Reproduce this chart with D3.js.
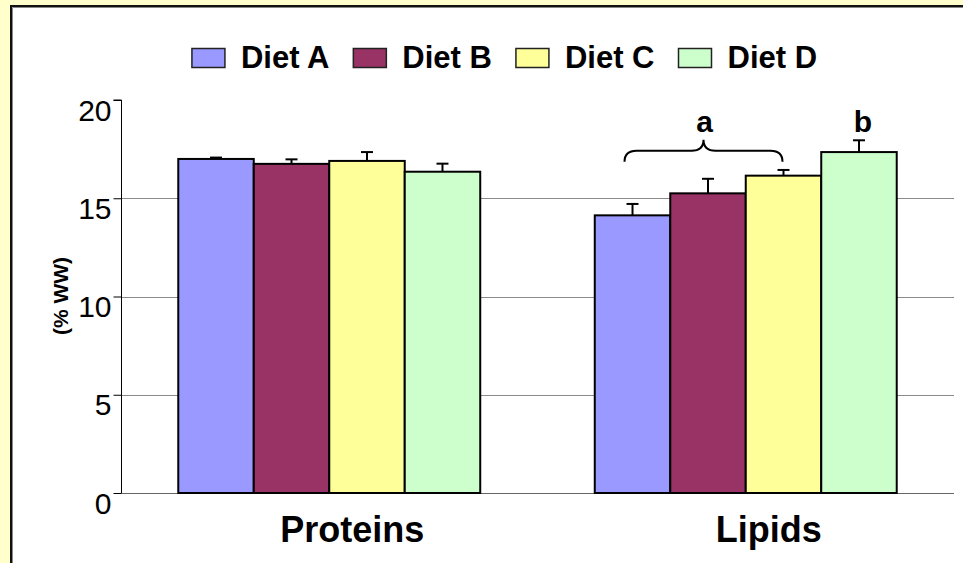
<!DOCTYPE html>
<html>
<head>
<meta charset="utf-8">
<script src="https://cdn.jsdelivr.net/npm/d3@7/dist/d3.min.js"></script>
<style>
  html, body { margin: 0; padding: 0; background: #FFFFCC; }
  svg { display: block; }
  text { font-family: "Liberation Sans", Arial, sans-serif; }
</style>
</head>
<body>
<svg id="chart" width="963" height="563"></svg>
<script>
// Body composition by diet (% wet weight)
const categories = ["Proteins", "Lipids"];
const diets = ["Diet A", "Diet B", "Diet C", "Diet D"];
const colors = ["#9999FF", "#993366", "#FFFF99", "#CCFFCC"];
const proteinValues = [17.0, 16.75, 16.9, 16.35];
const proteinErrors = [0.07, 0.23, 0.45, 0.41];
const lipidValues = [14.13, 15.25, 16.15, 17.35];
const lipidErrors = [0.58, 0.74, 0.29, 0.6];
const yTicks = [0, 5, 10, 15, 20];
const gridTicks = [5, 10, 15];
const yTitle = "(% WW)";
// significance groups for lipids
const sigGroups = [
  { label: "a", from: "Diet A", to: "Diet C" },
  { label: "b", from: "Diet D", to: "Diet D" }
];

const values = { Proteins: proteinValues, Lipids: lipidValues };
const errors = { Proteins: proteinErrors, Lipids: lipidErrors };

const svg = d3.select("#chart");

// white panel with dark frame
svg.append("rect").attr("x", 11).attr("y", 6).attr("width", 980).attr("height", 600)
  .attr("fill", "#fff").attr("stroke", "#111").attr("stroke-width", 2);
svg.append("path").attr("d", "M12.5,600 V7.5 H980").attr("fill", "none")
  .attr("stroke", "#888").attr("stroke-width", 1);

const plotLeft = 121, plotRight = 954, plotTop = 100, plotBottom = 493;

const y = d3.scaleLinear().domain([0, 20]).range([plotBottom, plotTop]);
const x0 = d3.scaleBand().domain(categories).range([plotLeft, plotRight])
  .paddingInner(0.275).paddingOuter(0.1375);
const x1 = d3.scaleBand().domain(diets).range([0, x0.bandwidth()]);
const color = d3.scaleOrdinal().domain(diets).range(colors);

// gridlines
svg.append("g").selectAll("line").data(gridTicks).join("line")
  .attr("x1", plotLeft).attr("x2", plotRight)
  .attr("y1", d => Math.round(y(d)) + 0.5).attr("y2", d => Math.round(y(d)) + 0.5)
  .attr("stroke", "#8a8a8a").attr("stroke-width", 1);

// baseline
svg.append("line").attr("x1", plotLeft).attr("x2", plotRight)
  .attr("y1", Math.round(y(0)) + 0.5).attr("y2", Math.round(y(0)) + 0.5)
  .attr("stroke", "#666").attr("stroke-width", 1.2);

// y axis
const yAxis = svg.append("g").attr("transform", `translate(${plotLeft + 0.5},0)`)
  .call(d3.axisLeft(y).tickValues(yTicks).tickSize(8).tickPadding(3).tickFormat(d3.format("d")));
yAxis.select(".domain").attr("stroke", "#000").attr("d", `M-8,${y(20)}H0V${y(0)}`);
yAxis.selectAll(".tick line").attr("stroke", "#000");
yAxis.selectAll(".tick text")
  .attr("font-size", 30).attr("font-family", "'Liberation Sans', Arial, sans-serif")
  .attr("fill", "#000").attr("dy", "20px").attr("x", -10);

// y title
svg.append("text").attr("transform", "translate(68,296) rotate(-90)")
  .attr("text-anchor", "middle").attr("font-size", 21).attr("font-weight", "bold")
  .text(yTitle);

// bars
const groups = svg.append("g").selectAll("g").data(categories).join("g")
  .attr("transform", d => `translate(${x0(d)},0)`);

const rows = c => diets.map((k, i) => ({ key: k, value: values[c][i], err: errors[c][i] }));

groups.selectAll("rect").data(rows).join("rect")
  .attr("x", d => x1(d.key)).attr("width", x1.bandwidth())
  .attr("y", d => y(d.value)).attr("height", d => y(0) - y(d.value))
  .attr("fill", d => color(d.key)).attr("stroke", "#000").attr("stroke-width", 2);

// error bars (upper only)
const eb = groups.selectAll("g.err").data(rows).join("g").attr("class", "err");
eb.append("line")
  .attr("x1", d => x1(d.key) + x1.bandwidth() / 2).attr("x2", d => x1(d.key) + x1.bandwidth() / 2)
  .attr("y1", d => y(d.value)).attr("y2", d => y(d.value + d.err))
  .attr("stroke", "#000").attr("stroke-width", 2);
eb.append("line")
  .attr("x1", d => x1(d.key) + x1.bandwidth() / 2 - 6).attr("x2", d => x1(d.key) + x1.bandwidth() / 2 + 6)
  .attr("y1", d => y(d.value + d.err)).attr("y2", d => y(d.value + d.err))
  .attr("stroke", "#000").attr("stroke-width", 2);

// category labels
svg.append("g").selectAll("text").data(categories).join("text")
  .attr("x", d => x0(d) + x0.bandwidth() / 2 + 23).attr("y", 541.5)
  .attr("text-anchor", "middle").attr("font-size", 36).attr("font-weight", "bold")
  .text(d => d);

// significance brace and letters (Lipids)
const lx = x0("Lipids");
const braceTop = y(17.95) - 0.5;
sigGroups.forEach(g => {
  const a = lx + x1(g.from) + x1.bandwidth() / 2;
  const b = lx + x1(g.to) + x1.bandwidth() / 2;
  const mid = (a + b) / 2;
  if (g.from !== g.to) {
    const L = a - 8, R = b - 1, m = (L + R) / 2;
    const yb = braceTop + 22, yh = braceTop + 11, yp = braceTop;
    const p = d3.path();
    p.moveTo(L, yb);
    p.quadraticCurveTo(L, yh, L + 12, yh);
    p.lineTo(m - 12, yh);
    p.quadraticCurveTo(m, yh, m, yp);
    p.quadraticCurveTo(m, yh, m + 12, yh);
    p.lineTo(R - 12, yh);
    p.quadraticCurveTo(R, yh, R, yb);
    svg.append("path").attr("d", p.toString()).attr("fill", "none")
      .attr("stroke", "#000").attr("stroke-width", 2);
    svg.append("text").attr("x", m + 1).attr("y", 131.5).attr("text-anchor", "middle")
      .attr("font-size", 30).attr("font-weight", "bold").text(g.label);
  } else {
    svg.append("text").attr("x", mid + 4).attr("y", 131.5).attr("text-anchor", "middle")
      .attr("font-size", 30).attr("font-weight", "bold").text(g.label);
  }
});

// legend
const legend = svg.append("g");
const items = legend.selectAll("g").data(diets).join("g");
items.append("rect").attr("width", 33).attr("height", 19).attr("y", 48.5)
  .attr("fill", d => color(d)).attr("stroke", "#222").attr("stroke-width", 1.5);
items.append("text").attr("x", 49).attr("y", 67.5)
  .attr("font-size", 31).attr("font-weight", "bold").text(d => d);
let cx = 0;
items.each(function () {
  const w = d3.select(this).select("text").node().getComputedTextLength();
  d3.select(this).attr("transform", `translate(${cx},0)`);
  cx += 49 + w + 24;
});
const total = cx - 24;
legend.attr("transform", `translate(${504.5 - total / 2},0)`);
</script>
</body>
</html>
